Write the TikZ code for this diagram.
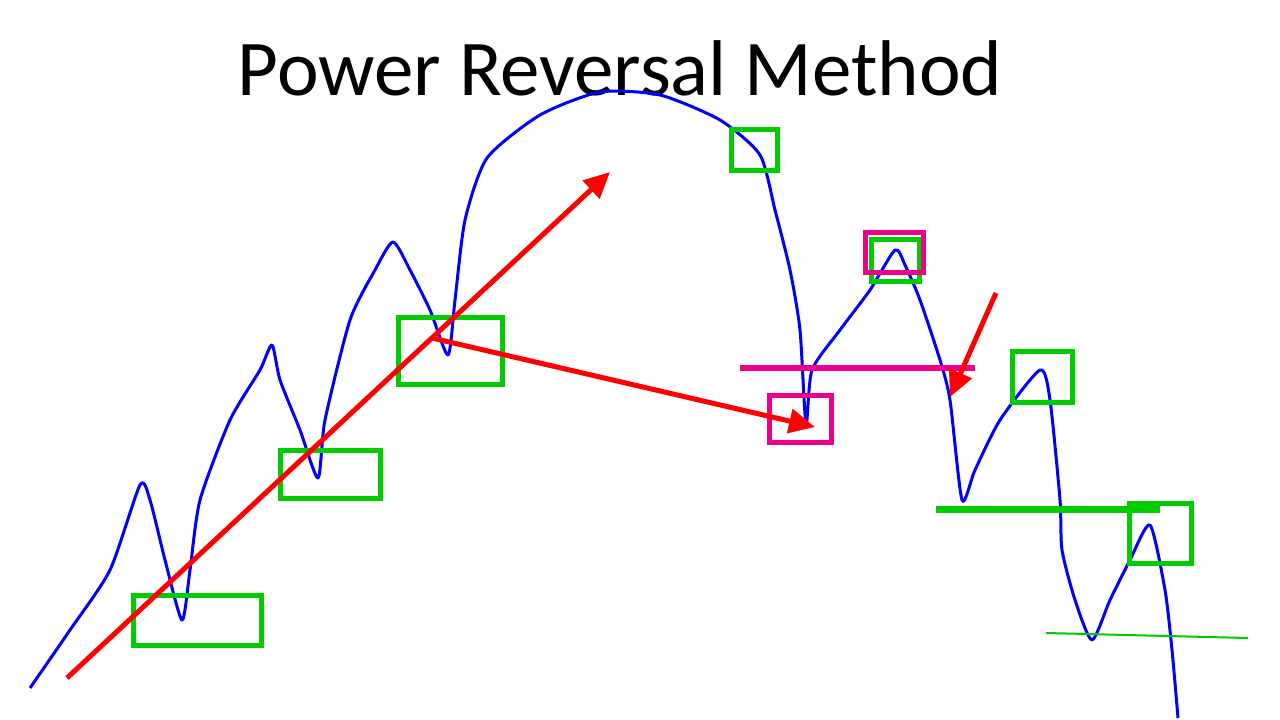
\documentclass[tikz,border=0pt]{standalone}
\usepackage{fontspec}
\setmainfont{Carlito}
\usetikzlibrary{arrows.meta}
\begin{document}
\begin{tikzpicture}[x=1pt,y=-1pt,
  gbox/.style={draw=green!80!black,line width=5pt},
  mbox/.style={draw=magenta,line width=5pt},
  redarr/.style={draw=red,line width=5pt,-{Triangle[length=26pt,width=24pt]}},
  blue/.style={draw=blue,line width=3pt,line join=round}]
\useasboundingbox (0,0) rectangle (1280,720);
\fill[white] (0,0) rectangle (1280,720);
\node[font=\fontsize{79}{86}\selectfont] (title) at (620,68) {Power Reversal Method};
\draw[blue] plot[smooth,tension=0.4] coordinates {(30,688) (70,630) (110,570) (140,485) (150,500) (165,560) (182,620) (190,570) (200,500) (230,420) (260,370) (272,345) (280,380) (300,430) (318,478) (325,420) (350,320) (375,270) (393,242) (410,270) (430,310) (448,355) (455,300) (465,220) (487,158) (540,115) (600,92) (660,95) (720,120) (760,155) (775,210) (790,270) (800,330) (806,425) (812,370) (840,330) (870,290) (895,250) (905,265) (920,300) (940,360) (950,400) (962,500) (975,470) (1000,420) (1040,370) (1050,400) (1060,500) (1062,550) (1075,600) (1092,640) (1110,600) (1130,560) (1150,525) (1165,590) (1172,650) (1178,718)};
\node[gbox,minimum width=128pt,minimum height=50pt] (g1) at (197,620) {};
\node[gbox,minimum width=100pt,minimum height=48pt] (g2) at (330,474) {};
\node[gbox,minimum width=104pt,minimum height=67pt] (g3) at (450,351) {};
\node[gbox,minimum width=46pt,minimum height=41pt] (g4) at (754,150) {};
\node[gbox,minimum width=48pt,minimum height=42pt] (g5) at (895,260) {};
\node[gbox,minimum width=60pt,minimum height=51pt] (g6) at (1042,377) {};
\node[gbox,minimum width=62pt,minimum height=60pt] (g7) at (1160,533) {};
\node[mbox,minimum width=58pt,minimum height=40pt] (m1) at (894,252) {};
\node[mbox,minimum width=62pt,minimum height=47pt] (m2) at (800,419) {};
\coordinate (ml1) at (740,368); \coordinate (ml2) at (975,368);
\draw[magenta,line width=6pt] (ml1) -- (ml2);
\coordinate (gl1) at (936,509); \coordinate (gl2) at (1160,509);
\draw[green!80!black,line width=7pt] (gl1) -- (gl2);
\coordinate (gt1) at (1046,633); \coordinate (gt2) at (1248,638);
\draw[green!80!black,line width=2pt] (gt1) -- (gt2);
\coordinate (r1a) at (67,678); \coordinate (r1b) at (610,172);
\draw[redarr] (r1a) -- (r1b);
\coordinate (r2a) at (432,338); \coordinate (r2b) at (815,427);
\draw[redarr] (r2a) -- (r2b);
\coordinate (r3a) at (996,293); \coordinate (r3b) at (950,397);
\draw[redarr] (r3a) -- (r3b);
\end{tikzpicture}
\end{document}
